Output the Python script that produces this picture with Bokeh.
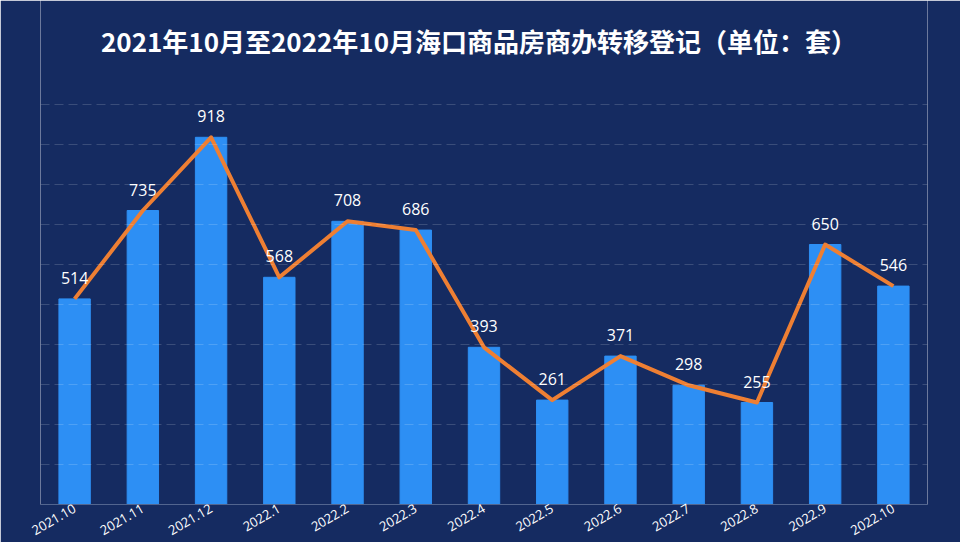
from bokeh.plotting import figure
from bokeh.models import ColumnDataSource, FixedTicker, Label, BoxAnnotation
from bokeh.embed import file_html
from bokeh.resources import INLINE
from bokeh.core.properties import value
import math

months = ["2021.10", "2021.11", "2021.12", "2022.1", "2022.2", "2022.3", "2022.4",
          "2022.5", "2022.6", "2022.7", "2022.8", "2022.9", "2022.10"]
counts = [514, 735, 918, 568, 708, 686, 393, 261, 371, 298, 255, 650, 546]
grid_ticks = [100, 200, 300, 400, 500, 600, 700, 800, 900, 1000]
title_text = "2021年10月至2022年10月海口商品房商办转移登记（单位：套）"

BG = "#152b61"

src = ColumnDataSource(dict(m=months, v=counts, lbl=[str(c) for c in counts]))

# frame reaches the top of the canvas; the range above 1000 holds the title
p = figure(x_range=months, y_range=(0, 1260), width=960, height=542,
           output_backend="svg", toolbar_location=None,
           min_border_left=40, min_border_right=33, min_border_top=0,
           min_border_bottom=36)
p.background_fill_color = None
p.border_fill_color = BG
p.outline_line_color = None

p.add_layout(BoxAnnotation(fill_color=BG, fill_alpha=1.0, line_color=None,
                           level="underlay"))

p.vbar(x="m", top="v", width=0.46, source=src, color="#2d8ff4")
p.line(x="m", y="v", source=src, line_color="#ee7f33", line_width=4, line_join="round")
p.text(x="m", y="v", text="lbl", source=src, text_color="white",
       text_font=value("Open Sans"), text_font_size="16px",
       text_align="center", text_baseline="alphabetic", y_offset=-21)

p.yaxis.visible = False
p.ygrid.ticker = FixedTicker(ticks=grid_ticks)
p.ygrid.grid_line_color = "#ffffff"
p.ygrid.grid_line_alpha = 0.16
p.ygrid.grid_line_dash = "9 5"
p.ygrid.grid_line_width = 1
p.ygrid.level = "glyph"
p.xgrid.visible = False

p.xaxis.axis_line_color = "#52658f"
p.xaxis.major_tick_line_color = None
p.xaxis.minor_tick_line_color = None
p.xaxis.major_tick_out = 0
p.xaxis.major_label_text_color = "white"
p.xaxis.major_label_text_font = "Open Sans"
p.xaxis.major_label_text_font_size = "13px"
p.xaxis.major_label_orientation = math.pi / 6
p.xaxis.major_label_standoff = 3

p.add_layout(Label(x=len(months) / 2, y=1160, text=title_text, text_align="center",
                   text_baseline="middle", x_offset=-5, text_color="white",
                   text_font="Noto Sans CJK SC", text_font_size="26px",
                   text_font_style="bold"))

html = file_html(p, INLINE)
html = html.replace("<body>", '<body style="margin:0;background:%s">' % BG, 1)
open("out.html", "w").write(html)
